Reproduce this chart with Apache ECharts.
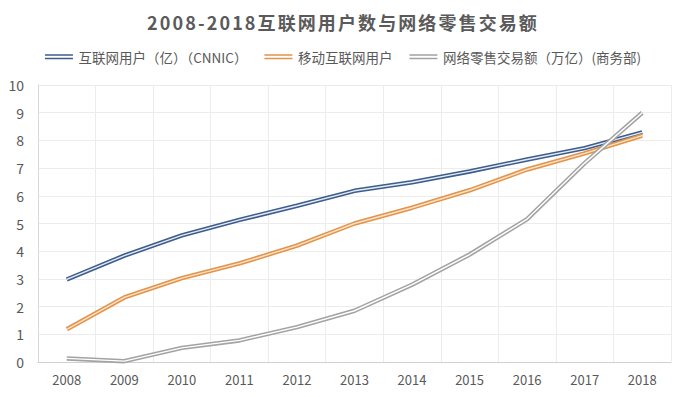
<!DOCTYPE html>
<html><head><meta charset="utf-8">
<script src="https://cdn.jsdelivr.net/npm/echarts@6/dist/echarts.min.js"></script>
<style>html,body{margin:0;padding:0;background:#fff}#c{width:686px;height:397px}</style>
</head><body><div id="c"></div>
<script>
const years = ['2008','2009','2010','2011','2012','2013','2014','2015','2016','2017','2018'];
const internetUsers = [2.98, 3.84, 4.57, 5.13, 5.64, 6.18, 6.49, 6.88, 7.31, 7.72, 8.29];
const mobileUsers = [1.18, 2.33, 3.03, 3.56, 4.20, 5.00, 5.57, 6.20, 6.95, 7.53, 8.17];
const onlineRetail = [0.13, 0.03, 0.51, 0.78, 1.26, 1.85, 2.79, 3.88, 5.16, 7.18, 9.00];
const names = ['互联网用户（亿）（CNNIC）', '移动互联网用户', '网络零售交易额（万亿）(商务部)'];
const yTicks = [0,1,2,3,4,5,6,7,8,9,10];
const titleText = '2008-2018互联网用户数与网络零售交易额';

const darkColors = ['#3e5d8c', '#e3934a', '#a3a3a3'];
const lightColors = ['#e4ebf5', '#fbe3c8', '#ffffff'];
const values = [internetUsers, mobileUsers, onlineRetail];

const series = [];
values.forEach((v, i) => {
  series.push({name: names[i], type: 'line', data: v, symbol: 'none', smooth: false,
    lineStyle: {color: darkColors[i], width: 4.5}, itemStyle: {color: darkColors[i]}, z: 2 + i*2});
});
values.forEach((v, i) => {
  series.push({name: names[i] + '_in', type: 'line', data: v, symbol: 'none',
    lineStyle: {color: lightColors[i], width: 1.4}, z: 3 + i*2, silent: true});
});

const chart = echarts.init(document.getElementById('c'), null, {renderer: 'svg'});
chart.setOption({
  animation: false,
  backgroundColor: '#fff',
  title: {text: titleText, left: 'center', top: 8,
    textStyle: {fontSize: 18, fontWeight: 'bold', color: '#5a5a5a', fontFamily: 'Noto Sans CJK SC'}},
  legend: {data: names, top: 45, left: 'center', itemWidth: 29, itemHeight: 5, itemGap: 17,
    icon: 'path://M0,0H28V1.6H0Z M0,3.4H28V5H0Z',
    textStyle: {fontSize: 13.5, color: '#595959', fontFamily: 'Noto Sans CJK SC'}},
  grid: {left: 38, right: 15, top: 85, bottom: 35, containLabel: false},
  xAxis: {type: 'category', data: years, boundaryGap: true,
    axisLine: {lineStyle: {color: '#d0d0d0'}}, axisTick: {show: false},
    axisLabel: {fontSize: 13, color: '#595959', margin: 11, fontFamily: 'Noto Sans CJK SC'},
    splitLine: {show: true, lineStyle: {color: '#ececec'}}},
  yAxis: {type: 'value', min: yTicks[0], max: yTicks[yTicks.length-1], interval: 1,
    axisLine: {show: true, lineStyle: {color: '#d8d8d8'}}, axisTick: {show: false},
    axisLabel: {fontSize: 14, color: '#595959', margin: 14, fontFamily: 'Noto Sans CJK SC'},
    splitLine: {show: true, lineStyle: {color: '#ececec'}}},
  series: series
});
document.querySelectorAll('#c svg text').forEach(t => {
  if (t.textContent === titleText) t.style.letterSpacing = '2.1px';
});
</script></body></html>
